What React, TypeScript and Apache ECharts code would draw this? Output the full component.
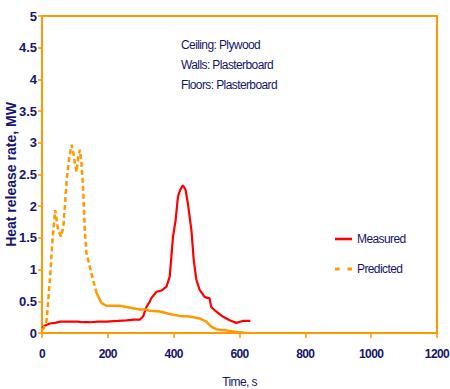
import React, { useEffect, useRef } from "react";
import * as echarts from "echarts";

const measuredT = [0, 10, 24, 40, 55, 70, 85, 106, 125, 145, 170, 196, 230, 257, 280, 297, 307, 317, 327, 332, 348, 363, 378, 388, 393, 398, 406, 413, 420, 428, 436, 443, 454, 461, 469, 479, 494, 505, 509, 514, 529, 549, 570, 590, 610, 633];
const measuredV = [0.08, 0.12, 0.15, 0.16, 0.18, 0.18, 0.18, 0.18, 0.17, 0.17, 0.18, 0.18, 0.19, 0.2, 0.21, 0.21, 0.26, 0.41, 0.49, 0.55, 0.65, 0.67, 0.73, 0.89, 1.2, 1.52, 1.78, 2.15, 2.26, 2.33, 2.26, 2.05, 1.62, 1.15, 0.84, 0.68, 0.57, 0.55, 0.55, 0.41, 0.34, 0.26, 0.2, 0.16, 0.19, 0.19];

const predEarlyT = [0, 6, 14, 24, 32, 40, 49, 58, 65, 75, 83, 90, 95, 100, 105, 110, 115, 120, 125, 130, 135, 145, 155, 166];
const predEarlyV = [0.05, 0.08, 0.2, 0.84, 1.47, 1.94, 1.62, 1.52, 1.68, 2.41, 2.78, 2.97, 2.85, 2.68, 2.54, 2.78, 2.89, 2.68, 2.26, 1.62, 1.26, 1.05, 0.84, 0.63];
const predLateT = [166, 181, 196, 236, 277, 297, 317, 327, 358, 388, 418, 448, 479, 499, 514, 529, 560, 600, 620, 630];
const predLateV = [0.63, 0.47, 0.43, 0.43, 0.39, 0.37, 0.37, 0.35, 0.34, 0.3, 0.27, 0.26, 0.23, 0.18, 0.1, 0.06, 0.04, 0.01, 0.0, 0.0];

const annotations = ["Ceiling: Plywood", "Walls: Plasterboard", "Floors: Plasterboard"];
const seriesNames = ["Measured", "Predicted"];

const NAVY = "#15156c";
const ORANGE = "#ff9900";
const RED = "#ff0000";
const NARROW = "Liberation Sans";
const SANS = "Arial, sans-serif";

const zip = (t: number[], v: number[]) => t.map((x, i) => [x, v[i]]);

export default function App() {
  const ref = useRef<HTMLDivElement>(null);
  useEffect(() => {
    document.body.style.margin = "0";
    const st = document.createElement("style");
    st.textContent = '#root svg text[style*="Liberation"]{letter-spacing:-0.6px;}';
    document.head.appendChild(st);
    const chart = echarts.init(ref.current!, null, { renderer: "svg" });
    chart.setOption({
      animation: false,
      backgroundColor: "#ffffff",
      grid: {
        left: 42,
        right: 13,
        top: 16,
        bottom: 56,
        containLabel: false,
        outerBoundsMode: "none",
        show: true,
        borderColor: ORANGE,
        borderWidth: 2,
      },
      legend: {
        data: [
          { name: seriesNames[0], icon: "path://M0,0h17v2.6h-17z" },
          { name: seriesNames[1], icon: "path://M0,0h4.5v3h-4.5z M12.5,0h4.5v3h-4.5z" },
        ],
        orient: "vertical",
        left: 330,
        top: 228,
        itemGap: 18,
        itemWidth: 17,
        itemHeight: 14,
        itemStyle: { borderWidth: 0 },
        textStyle: { color: NAVY, fontFamily: NARROW, fontSize: 12 },
      },
      graphic: annotations.map((a, i) => ({
        type: "text",
        left: 181,
        top: 39 + i * 20,
        style: { text: a, fill: NAVY, font: `12px ${NARROW}` },
      })),
      xAxis: {
        type: "value",
        min: 0,
        max: 1200,
        interval: 200,
        name: "Time, s",
        nameLocation: "middle",
        nameGap: 43,
        nameMoveOverlap: false,
        nameTextStyle: { color: NAVY, fontFamily: NARROW, fontSize: 12 },
        axisLine: { show: true, lineStyle: { color: ORANGE, width: 2 } },
        axisTick: { show: true, length: 5, lineStyle: { color: ORANGE, width: 1.5 } },
        axisLabel: {
          color: NAVY,
          fontFamily: NARROW,
          fontSize: 12,
          fontWeight: "bold",
          margin: 15,
          formatter: (v: number) => String(v),
        },
        splitLine: { show: false },
      },
      yAxis: {
        type: "value",
        min: 0,
        max: 5,
        interval: 0.5,
        name: "Heat release rate, MW",
        nameLocation: "middle",
        nameGap: 24,
        nameMoveOverlap: false,
        nameTextStyle: { color: NAVY, fontFamily: SANS, fontSize: 14, fontWeight: "bold" },
        axisLine: { show: true, lineStyle: { color: ORANGE, width: 2 } },
        axisTick: { show: true, length: 4, lineStyle: { color: ORANGE, width: 1.5 } },
        axisLabel: {
          color: NAVY,
          fontFamily: SANS,
          fontSize: 13,
          fontWeight: "bold",
          margin: 5,
          formatter: (v: number) => String(v),
        },
        splitLine: { show: false },
      },
      series: [
        {
          name: "Measured",
          type: "line",
          data: zip(measuredT, measuredV),
          symbol: "none",
          lineStyle: { color: RED, width: 2.2 },
          itemStyle: { color: RED },
        },
        {
          name: "Predicted",
          type: "line",
          data: zip(predEarlyT, predEarlyV),
          symbol: "none",
          lineStyle: { color: ORANGE, width: 2.5, type: [5, 3] },
          itemStyle: { color: ORANGE },
        },
        {
          name: "Predicted",
          type: "line",
          data: zip(predLateT, predLateV),
          symbol: "none",
          lineStyle: { color: ORANGE, width: 2.5 },
          itemStyle: { color: ORANGE },
        },
      ],
    });
    return () => {
      chart.dispose();
      st.remove();
    };
  }, []);
  return <div ref={ref} style={{ width: 450, height: 389 }} />;
}
